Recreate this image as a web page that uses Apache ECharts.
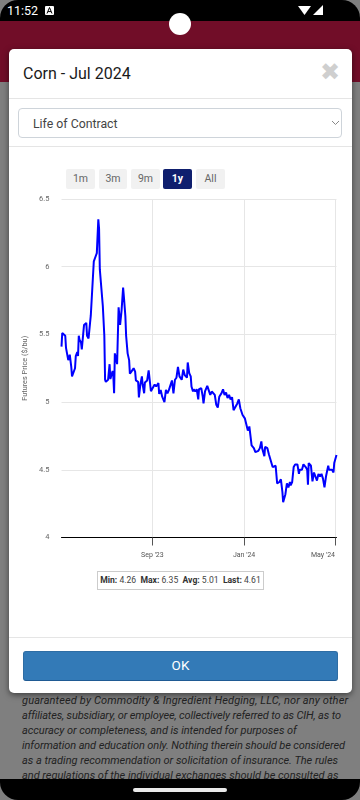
<!DOCTYPE html>
<html>
<head>
<meta charset="utf-8">
<script src="https://cdn.jsdelivr.net/npm/echarts@6/dist/echarts.min.js"></script>
<style>
html,body{margin:0;padding:0;width:360px;height:800px;overflow:hidden;background:#fff;font-family:Roboto,sans-serif}
.abs{position:absolute}
#page{position:absolute;left:0;top:0;width:360px;height:800px;background:#7f7f7f;overflow:hidden}
#bar{left:0;top:21px;width:360px;height:61px;background:#710d28}
#disc{left:169px;top:13px;width:22px;height:22px;border-radius:50%;background:#fff;z-index:5}
#status{left:0;top:0;width:360px;height:21px;background:#000;border-radius:18px 18px 0 0;color:#fff;font-size:12.5px;line-height:22px;z-index:4}
#nav{left:0;top:779px;width:360px;height:21px;background:#000;border-radius:0 0 18px 18px;z-index:4}
#pill{left:133px;width:94px;height:4px;border-radius:2px;background:#e8e8e8}
#legal{left:22px;top:693px;width:330px;font-style:italic;font-size:11px;line-height:15px;color:#222;white-space:nowrap}
#legal span{display:block}
#modal{left:9px;top:49px;width:343px;height:644px;background:#fff;border-radius:5px;box-shadow:0 2px 6px rgba(0,0,0,.5)}
.rule{left:9px;width:343px;height:1px;background:#e5e5e5}
#title{left:23px;top:63px;font-size:16px;line-height:21px;color:#1a1a1a}
#close{left:320px;top:60px;font-size:24px;line-height:24px;font-weight:700;color:#cfcfcf;font-family:"DejaVu Sans",sans-serif}
#select{left:18px;top:108px;width:322px;height:28px;border:1px solid #ced4da;border-radius:4px}
#selText{left:33px;top:115px;font-size:12.3px;line-height:18px;color:#444}
.btn{top:169px;height:20px;line-height:20px;text-align:center;background:#f1f1f1;border-radius:2px;font-size:10.5px;color:#666}
.on{background:#0f1f6e;color:#fff;font-weight:700}
#chart{left:0;top:190px;width:360px;height:370px}
#stats{left:97px;top:571px;width:165px;height:17px;border:1px solid #ccc;font-size:8.6px;line-height:17px;text-align:center;color:#444;white-space:nowrap;background:#fff}
#stats b{color:#333}
#ok{left:23px;top:651px;width:313px;height:28px;background:#337ab7;border:1px solid #2e6da4;border-bottom-color:#1f5a93;border-radius:3px;color:#fff;font-size:13.5px;line-height:27px;text-align:center}
</style>
</head>
<body>
<div id="page">
  <div id="bar" class="abs"></div>
  <div id="legal" class="abs"><span style="letter-spacing:.14px">guaranteed by Commodity &amp; Ingredient Hedging, LLC, nor any other</span><span style="letter-spacing:-.14px">affiliates, subsidiary, or employee, collectively referred to as CIH, as to</span><span style="letter-spacing:-.05px">accuracy or completeness, and is intended for purposes of</span><span style="letter-spacing:-.1px">information and education only. Nothing therein should be considered</span><span style="letter-spacing:-.02px">as a trading recommendation or solicitation of insurance. The rules</span><span style="letter-spacing:-.02px">and regulations of the individual exchanges should be consulted as</span></div>
  <div id="status" class="abs">
    <span class="abs" style="left:7px;top:0">11:52</span>
    <svg class="abs" style="left:45px;top:6px" width="9" height="9"><rect width="9" height="9" rx="1" fill="#fff"/><path d="M2 7.5 4.5 1.5 7 7.5M3 5.6H6" stroke="#000" fill="none" stroke-width="1"/></svg>
    <svg class="abs" style="left:297px;top:4px" width="27" height="12"><polygon points="1,2 14,2 7.5,11" fill="#fff"/><polygon points="26,1 26,11 16,11" fill="#fff"/></svg>
  </div>
  <div id="disc" class="abs"></div>
  <div id="modal" class="abs"></div>
  <div class="abs rule" style="top:98px"></div>
  <div class="abs rule" style="top:146px"></div>
  <div class="abs rule" style="top:637px"></div>
  <div id="title" class="abs">Corn - Jul 2024</div>
  <div id="close" class="abs">✖</div>
  <div id="select" class="abs"></div>
  <div id="selText" class="abs">Life of Contract</div>
  <svg class="abs" style="left:331px;top:120px" width="9" height="6"><path d="M1 1 4.5 4.5 8 1" stroke="#888" fill="none"/></svg>
  <div class="abs btn" style="left:66px;width:29px">1m</div>
  <div class="abs btn" style="left:99px;width:28px">3m</div>
  <div class="abs btn" style="left:131px;width:29px">9m</div>
  <div class="abs btn on" style="left:163px;width:29px">1y</div>
  <div class="abs btn" style="left:196px;width:29px">All</div>
  <div id="chart" class="abs"></div>
  <div id="stats" class="abs"><b>Min:</b> 4.26&nbsp; <b>Max:</b> 6.35 &nbsp;<b>Avg:</b> 5.01&nbsp; <b>Last:</b> 4.61</div>
  <div id="ok" class="abs">OK</div>
  <div id="nav" class="abs"><div id="pill" class="abs" style="top:9px"></div></div>
</div>
<script>
const startDate = '2023-05-03';
const endDate = '2024-05-03';
const dayOffsets = [0,1,3,5,6,8,9,10,11,13,14,16,18,19,21,22,23,24,26,27,30,32,33,34,36,38,39,41,43,45,47,49,50,51,53,55,57,58,59,61,62,64,65,66,68,69,70,71,73,74,76,78,80,82,83,85,86,88,90,91,93,95,96,98,99,102,103,105,107,108,110,111,114,116,119,121,124,126,129,130,132,134,137,139,141,143,145,147,149,151,153,155,157,160,162,164,167,
168,170,172,173,175,176,178,180,182,183,186,188,189,191,194,196,198,200,202,204,206,208,210,213,215,217,219,221,223,225,227,229,231,234,236,238,241,244,246,248,250,252,253,256,258,262,264,266,267,270,271,274,276,278,281,283,285,287,290,292,294,295,298,300,302,304,305,307,309,311,314,316,317,320,322,325,327,328,329,332,334,336,338,340,342,344,346,348,350,352,355,356,358,360,362,363,366];
const prices = [5.41,5.51,5.52,5.49,5.40,5.39,5.31,5.33,5.35,5.26,5.19,5.19,5.25,5.34,5.37,5.34,5.49,5.46,5.44,5.39,5.57,5.56,5.585,5.49,5.47,5.585,5.64,5.65,6.04,6.07,6.10,6.35,6.28,5.98,5.985,5.71,5.49,5.165,5.15,5.145,5.165,5.28,5.17,5.19,5.23,5.19,5.065,5.36,5.31,5.28,5.70,5.57,5.68,5.845,5.78,5.635,5.49,5.36,5.31,5.21,5.225,5.22,5.25,5.225,5.16,5.15,5.035,5.13,5.19,5.13,5.065,5.145,5.16,5.235,5.08,5.10,5.13,5.115,5.14,5.06,5.09,5.04,5.00,5.09,5.065,5.09,5.085,5.16,5.065,5.165,5.18,5.26,5.19,5.165,5.24,5.20,5.18,
5.293,5.214,5.19,5.115,5.078,5.095,5.078,5.095,5.02,5.095,5.103,5.04,4.99,5.08,5.12,5.13,5.053,5.078,5.09,5.053,4.98,4.96,5.04,5.066,5.095,5.053,5.07,5.03,5.053,5.02,5.036,4.94,4.93,4.99,5.02,4.955,4.905,4.88,4.89,4.79,4.82,4.806,4.68,4.66,4.63,4.64,4.66,4.71,4.66,4.60,4.67,4.66,4.615,4.61,4.52,4.52,4.53,4.40,4.41,4.43,4.336,4.26,4.32,4.40,4.37,4.41,4.386,4.41,4.52,4.54,4.54,4.47,4.50,4.50,4.54,4.52,4.50,4.39,4.55,4.53,4.415,4.48,4.48,4.42,4.47,4.45,4.47,4.435,4.37,4.45,4.53,4.50,4.51,4.50,4.48,4.55,4.61];
const xTickDates = ['2023-09-01','2024-01-01','2024-05-01'];
const xTickLabels = ["Sep '23","Jan '24","May '24"];

const DAY = 86400000;
const t0 = Date.parse(startDate + 'T00:00:00Z');
const seriesData = dayOffsets.map((d, i) => [t0 + d * DAY, prices[i]]);
const xTicks = xTickDates.map(d => Date.parse(d + 'T00:00:00Z'));

const chart = echarts.init(document.getElementById('chart'), null, {renderer: 'canvas'});
chart.setOption({
  animation: false,
  backgroundColor: 'transparent',
  grid: {left: 61.5, right: 23.5, top: 9, bottom: 22.5, containLabel: false},
  xAxis: {
    type: 'value',
    min: t0,
    max: Date.parse(endDate + 'T00:00:00Z'),
    axisLine: {show: true, onZero: false, lineStyle: {color: '#000', width: 1}},
    axisTick: {show: true, length: 8, lineStyle: {color: '#555', width: 1}, customValues: xTicks},
    axisLabel: {
      customValues: xTicks,
      margin: 14,
      fontSize: 7,
      fontFamily: 'Roboto',
      color: '#555',
      alignMaxLabel: 'right',
      formatter: v => xTickLabels[xTicks.indexOf(v)] || ''
    },
    splitLine: {show: false}
  },
  yAxis: {
    type: 'value',
    min: 4,
    max: 6.5,
    interval: 0.5,
    name: 'Futures Price ($/bu)',
    nameLocation: 'middle',
    nameGap: 32,
    nameTextStyle: {fontSize: 7.3, color: '#666', fontFamily: 'Roboto'},
    axisLine: {show: false},
    axisTick: {show: false},
    axisLabel: {margin: 12, fontSize: 7.5, color: '#666', fontFamily: 'Roboto', padding: [2, 0, 0, 0]},
    splitLine: {show: true, lineStyle: {color: '#e6e6e6', width: 1}}
  },
  series: [
    {
      type: 'line',
      data: seriesData,
      showSymbol: false,
      smooth: false,
      lineStyle: {color: '#0000ff', width: 2},
      markLine: {
        silent: true,
        symbol: 'none',
        label: {show: false},
        z: 0,
        lineStyle: {color: '#e6e6e6', width: 1, type: 'solid'},
        data: xTicks.map(x => ({xAxis: x}))
      }
    }
  ]
});
</script>
</body>
</html>
